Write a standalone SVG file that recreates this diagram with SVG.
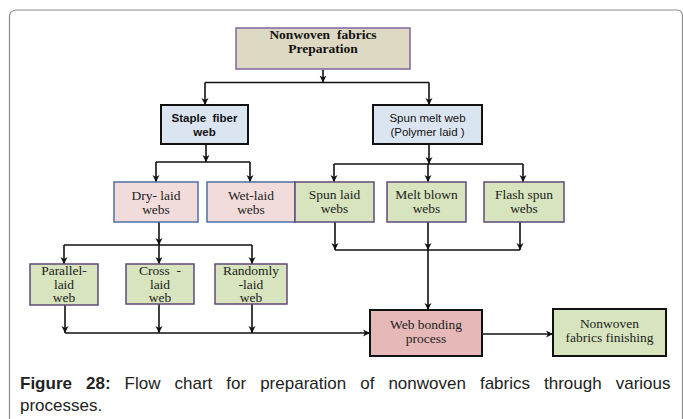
<svg xmlns="http://www.w3.org/2000/svg" width="683" height="419" viewBox="0 0 683 419">
<style>
.frame{fill:none;stroke:#8c8c8c;stroke-width:1.2}
.c{stroke:#111;stroke-width:1.6;fill:none}
.a{stroke:#111;stroke-width:1.6;fill:none;marker-end:url(#ah)}
.serif{font-family:"Liberation Serif","Times New Roman",serif;font-size:13.5px;fill:#222;text-anchor:middle}
.serifb{font-family:"Liberation Serif","Times New Roman",serif;font-size:13.5px;font-weight:bold;fill:#111;text-anchor:middle}
.sans{font-family:"Liberation Sans",Arial,sans-serif;font-size:11.5px;fill:#111;text-anchor:middle}
.sansb{font-family:"Liberation Sans",Arial,sans-serif;font-size:11.5px;font-weight:bold;fill:#111;text-anchor:middle}
.cap{font-family:"Liberation Sans",Arial,sans-serif;font-size:17px;fill:#222}
.tan{fill:#ddd9c3;stroke:#8064a2;stroke-width:1.5}
.blue{fill:#dbe5f1;stroke:#111;stroke-width:2}
.pink{fill:#f2dcdb;stroke:#4f6fa5;stroke-width:1.5}
.green{fill:#d7e4bd;stroke:#5f497a;stroke-width:1.5}
.rose{fill:#e6b9b8;stroke:#111;stroke-width:2}
.greenb{fill:#d7e4bd;stroke:#111;stroke-width:2}
</style>
<defs>
<marker id="ah" markerUnits="userSpaceOnUse" markerWidth="9" markerHeight="9" refX="7" refY="4" orient="auto">
<path d="M0,0.5 L7,4 L0,7.5 L2,4 z" fill="#111"/>
</marker>
</defs>
<rect x="0" y="0" width="683" height="419" fill="#fff"/>
<path class="frame" d="M9.5,419 V17 Q9.5,10 16.5,10 H676 Q682.5,10 682.5,16 V419"/>

<g id="connectors">
<line class="a" x1="323" y1="69.5" x2="323" y2="82.5"/>
<line class="c" x1="205" y1="82.5" x2="429" y2="82.5"/>
<line class="a" x1="205" y1="82.5" x2="205" y2="105"/>
<line class="a" x1="429" y1="82.5" x2="429" y2="105"/>

<line class="a" x1="206" y1="144" x2="206" y2="162"/>
<line class="c" x1="156" y1="162" x2="250" y2="162"/>
<line class="a" x1="156" y1="162" x2="156" y2="182"/>
<line class="a" x1="250" y1="162" x2="250" y2="182"/>

<line class="a" x1="429" y1="144" x2="429" y2="164"/>
<line class="c" x1="334" y1="164" x2="523" y2="164"/>
<line class="a" x1="334" y1="164" x2="334" y2="182"/>
<line class="a" x1="428" y1="164" x2="428" y2="182"/>
<line class="a" x1="523" y1="164" x2="523" y2="182"/>

<line class="a" x1="159" y1="222" x2="159" y2="245"/>
<line class="c" x1="64" y1="245" x2="252" y2="245"/>
<line class="a" x1="64" y1="245" x2="64" y2="264"/>
<line class="a" x1="159" y1="245" x2="159" y2="264"/>
<line class="a" x1="252" y1="245" x2="252" y2="264"/>

<line class="a" x1="65" y1="305" x2="65" y2="333"/>
<line class="a" x1="159" y1="304" x2="159" y2="333"/>
<line class="a" x1="252" y1="304" x2="252" y2="333"/>
<line class="a" x1="65" y1="333" x2="370" y2="333"/>

<line class="a" x1="335" y1="222" x2="335" y2="250"/>
<line class="a" x1="428" y1="222" x2="428" y2="250"/>
<line class="a" x1="520" y1="222" x2="520" y2="250"/>
<line class="c" x1="335" y1="250" x2="520" y2="250"/>
<line class="a" x1="428" y1="250" x2="428" y2="310"/>

<line class="a" x1="482" y1="334" x2="553" y2="334"/>
</g>

<g id="n-prep">
<rect class="tan" x="236" y="28" width="174" height="41"/>
<text class="serifb" x="323" y="39" xml:space="preserve">Nonwoven  fabrics</text>
<text class="serifb" x="323" y="53">Preparation</text>
</g>

<g id="n-staple">
<rect class="blue" x="161" y="105" width="87" height="39"/>
<text class="sansb" x="204.5" y="122" xml:space="preserve">Staple  fiber</text>
<text class="sansb" x="204.5" y="136">web</text>
</g>

<g id="n-spunmelt">
<rect class="blue" x="373" y="105" width="109" height="39"/>
<text class="sans" x="427.5" y="122">Spun melt web</text>
<text class="sans" x="427.5" y="136">(Polymer laid )</text>
</g>

<g id="n-dry">
<rect class="pink" x="114" y="182" width="84" height="40"/>
<text class="serif" x="156" y="200">Dry- laid</text>
<text class="serif" x="156" y="213.5">webs</text>
</g>

<g id="n-wet">
<rect class="pink" x="207" y="182" width="88" height="40"/>
<text class="serif" x="251" y="200">Wet-laid</text>
<text class="serif" x="251" y="213.5">webs</text>
</g>

<g id="n-spunlaid">
<rect class="green" x="295" y="182" width="79" height="40"/>
<text class="serif" x="334.5" y="198.5">Spun laid</text>
<text class="serif" x="334.5" y="212.5">webs</text>
</g>

<g id="n-meltblown">
<rect class="green" x="387" y="182" width="79" height="40"/>
<text class="serif" x="426.5" y="198.5">Melt blown</text>
<text class="serif" x="426.5" y="212.5">webs</text>
</g>

<g id="n-flash">
<rect class="green" x="484" y="182" width="80" height="40"/>
<text class="serif" x="524" y="198.5">Flash spun</text>
<text class="serif" x="524" y="212.5">webs</text>
</g>

<g id="n-parallel">
<rect class="green" x="30" y="264" width="68" height="41"/>
<text class="serif" x="64" y="275">Parallel-</text>
<text class="serif" x="64" y="288.5">laid</text>
<text class="serif" x="64" y="302">web</text>
</g>

<g id="n-cross">
<rect class="green" x="126" y="264" width="68" height="40"/>
<text class="serif" x="160" y="275" xml:space="preserve">Cross  -</text>
<text class="serif" x="160" y="288.5">laid</text>
<text class="serif" x="160" y="302">web</text>
</g>

<g id="n-random">
<rect class="green" x="215" y="264" width="72" height="40"/>
<text class="serif" x="251" y="275">Randomly</text>
<text class="serif" x="251" y="288.5">-laid</text>
<text class="serif" x="251" y="302">web</text>
</g>

<g id="n-bonding">
<rect class="rose" x="370" y="310" width="112" height="46"/>
<text class="serif" x="426" y="328.5">Web bonding</text>
<text class="serif" x="426" y="342.5">process</text>
</g>

<g id="n-finishing">
<rect class="greenb" x="553" y="309" width="113" height="47"/>
<text class="serif" x="609.5" y="328">Nonwoven</text>
<text class="serif" x="609.5" y="342">fabrics finishing</text>
</g>

<g id="caption">
<text class="cap" x="20" y="389" word-spacing="9.3"><tspan font-weight="bold">Figure 28:</tspan> Flow chart for preparation of nonwoven fabrics through various</text>
<text class="cap" x="20" y="411">processes.</text>
</g>
</svg>
